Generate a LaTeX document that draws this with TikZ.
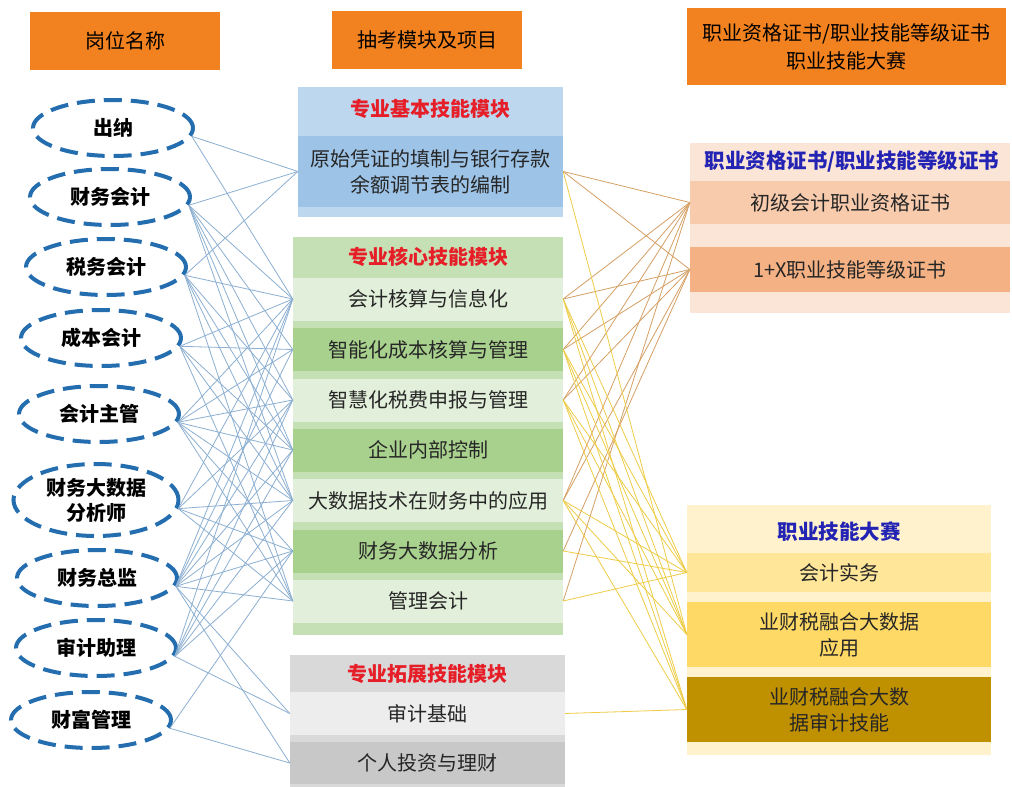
\documentclass[tikz,border=0pt]{standalone}
\usepackage{fontspec}
\setmainfont{Noto Sans CJK SC}
\usetikzlibrary{shapes.geometric}
\definecolor{hdrorange}{RGB}{242,130,31}
\definecolor{roleblue}{RGB}{36,110,176}
\definecolor{lineblue}{RGB}{140,175,210}
\definecolor{lineorange}{RGB}{214,160,100}
\definecolor{lineyellow}{RGB}{238,204,70}
\definecolor{bluelt}{RGB}{189,215,238}
\definecolor{bluemid}{RGB}{157,195,230}
\definecolor{greenlt}{RGB}{226,239,218}
\definecolor{greenmd}{RGB}{197,224,180}
\definecolor{greendk}{RGB}{169,209,142}
\definecolor{graylt}{RGB}{237,237,237}
\definecolor{graymd}{RGB}{217,217,217}
\definecolor{graydk}{RGB}{200,200,200}
\definecolor{peachlt}{RGB}{251,229,214}
\definecolor{peachmd}{RGB}{248,203,173}
\definecolor{peachdk}{RGB}{244,177,131}
\definecolor{yellt}{RGB}{255,242,204}
\definecolor{yelmd}{RGB}{255,230,153}
\definecolor{yeldk}{RGB}{255,217,102}
\definecolor{gold}{RGB}{191,144,0}
\definecolor{titlered}{RGB}{230,30,40}
\definecolor{titleblue}{RGB}{35,35,180}
\begin{document}
\begin{tikzpicture}[x=1pt,y=-1pt,
  hdr/.style={fill=hdrorange, inner sep=0pt, align=center, font=\fontsize{20}{28}\selectfont},
  role/.style={ellipse, draw=roleblue, line width=4pt, dash pattern=on 18pt off 9pt,
     minimum width=160pt, minimum height=56pt, inner sep=0pt, align=center,
     font=\fontsize{20}{25}\selectfont\bfseries},
  band/.style={inner sep=0pt, align=center, text=black!85, font=\fontsize{20}{26}\selectfont},
  modtitle/.style={text=titlered, font=\fontsize{20}{22}\selectfont\bfseries},
  rtitle/.style={text=titleblue, font=\fontsize{20.5}{22}\selectfont\bfseries},
  bl/.style={draw=lineblue, line width=0.8pt},
  ol/.style={draw=lineorange, line width=0.8pt},
  yl/.style={draw=lineyellow, line width=0.8pt}]
\useasboundingbox[fill=white] (0,0) rectangle (1012,787);

% headers
\node[hdr, minimum width=190pt, minimum height=58pt] (h1) at (125,41) {岗位名称};
\node[hdr, minimum width=190pt, minimum height=58pt] (h2) at (427,40) {抽考模块及项目};
\node[hdr, minimum width=319pt, minimum height=77pt] (h3) at (846.5,46.5) {职业资格证书/职业技能等级证书\\职业技能大赛};

% roles
\node[role] (r1) at (113,128) {出纳};
\node[role] (r2) at (110,197) {财务会计};
\node[role] (r3) at (106,267) {税务会计};
\node[role] (r4) at (101,338) {成本会计};
\node[role] (r5) at (99,414) {会计主管};
\node[role, minimum width=165pt, minimum height=72pt] (r6) at (96,500) {财务大数据\\分析师};
\node[role] (r7) at (97,578) {财务总监};
\node[role] (r8) at (96,648) {审计助理};
\node[role] (r9) at (91,720) {财富管理};

% basic module
\fill[bluelt] (298,87) rectangle (563,217);
\node[modtitle] (t1) at (430.5,109) {专业基本技能模块};
\node[band, fill=bluemid, minimum width=265pt, minimum height=71pt] (b) at (430.5,171.5) {原始凭证的填制与银行存款\\余额调节表的编制};

% core module
\fill[greenmd] (293,237) rectangle (563,635);
\node[modtitle] (t2) at (428,257) {专业核心技能模块};
\node[band, fill=greenlt, minimum width=270pt, minimum height=43pt] (c1) at (428,299) {会计核算与信息化};
\node[band, fill=greendk, minimum width=270pt, minimum height=43pt] (c2) at (428,349.5) {智能化成本核算与管理};
\node[band, fill=greenlt, minimum width=270pt, minimum height=43pt] (c3) at (428,400) {智慧化税费申报与管理};
\node[band, fill=greendk, minimum width=270pt, minimum height=43pt] (c4) at (428,450) {企业内部控制};
\node[band, fill=greenlt, minimum width=270pt, minimum height=43pt] (c5) at (428,500.5) {大数据技术在财务中的应用};
\node[band, fill=greendk, minimum width=270pt, minimum height=43pt] (c6) at (428,551) {财务大数据分析};
\node[band, fill=greenlt, minimum width=270pt, minimum height=43pt] (c7) at (428,601) {管理会计};

% extension module
\fill[graymd] (290,655) rectangle (565,787);
\node[modtitle] (t3) at (427.5,674) {专业拓展技能模块};
\node[band, fill=graylt, minimum width=275pt, minimum height=43pt] (e1) at (427.5,713.5) {审计基础};
\node[band, fill=graydk, minimum width=275pt, minimum height=42pt] (e2) at (427.5,763) {个人投资与理财};

% certificates
\fill[peachlt] (690,143) rectangle (1010,313);
\node[rtitle] (t4) at (852,162) {职业资格证书/职业技能等级证书};
\node[band, fill=peachmd, minimum width=320pt, minimum height=43pt] (z1) at (850,202.5) {初级会计职业资格证书};
\node[band, fill=peachdk, minimum width=320pt, minimum height=45pt] (z2) at (850,269.5) {1+X职业技能等级证书};

% competitions
\fill[yellt] (687,505) rectangle (991,755);
\node[rtitle] (t5) at (839,532) {职业技能大赛};
\node[band, fill=yelmd, minimum width=304pt, minimum height=39pt] (k1) at (839,572.5) {会计实务};
\node[band, fill=yeldk, minimum width=304pt, minimum height=65pt] (k2) at (839,634.5) {业财税融合大数据\\应用};
\node[band, fill=gold, minimum width=304pt, minimum height=65pt] (k3) at (839,709.5) {业财税融合大数\\据审计技能};

% role -> module connectors
\foreach \r/\t in {r1/b, r1/c1,
  r2/b, r2/c1, r2/c2, r2/c3, r2/c4, r2/c5,
  r3/b, r3/c1, r3/c3, r3/c4, r3/c5, r3/c7,
  r4/c1, r4/c2, r4/c4, r4/c5, r4/c7,
  r5/c1, r5/c2, r5/c3, r5/c4, r5/c5, r5/c6, r5/c7,
  r6/c1, r6/c3, r6/c5, r6/c6, r6/c7,
  r7/c1, r7/c2, r7/c3, r7/c4, r7/c5, r7/c6, r7/c7, r7/e1, r7/e2,
  r8/c1, r8/c3, r8/c4, r8/c5, r8/c6, r8/e1,
  r9/c6, r9/e2}
  \draw[bl] (\r.-6) -- (\t.west);

% module -> certificate connectors
\foreach \s/\t in {b/z1, b/z2, c1/z1, c1/z2, c2/z1, c2/z2, c3/z1, c3/z2,
  c5/z1, c5/z2, c6/z2, c7/z1}
  \draw[ol] (\s.east) -- (\t.west);

% module -> competition connectors
\foreach \s/\t in {b/k2, c1/k1, c1/k2, c1/k3, c2/k1, c2/k2, c2/k3,
  c3/k1, c3/k2, c3/k3, c5/k1, c5/k2, c5/k3, c6/k1, c7/k1, e1/k3}
  \draw[yl] (\s.east) -- (\t.west);
\end{tikzpicture}
\end{document}
